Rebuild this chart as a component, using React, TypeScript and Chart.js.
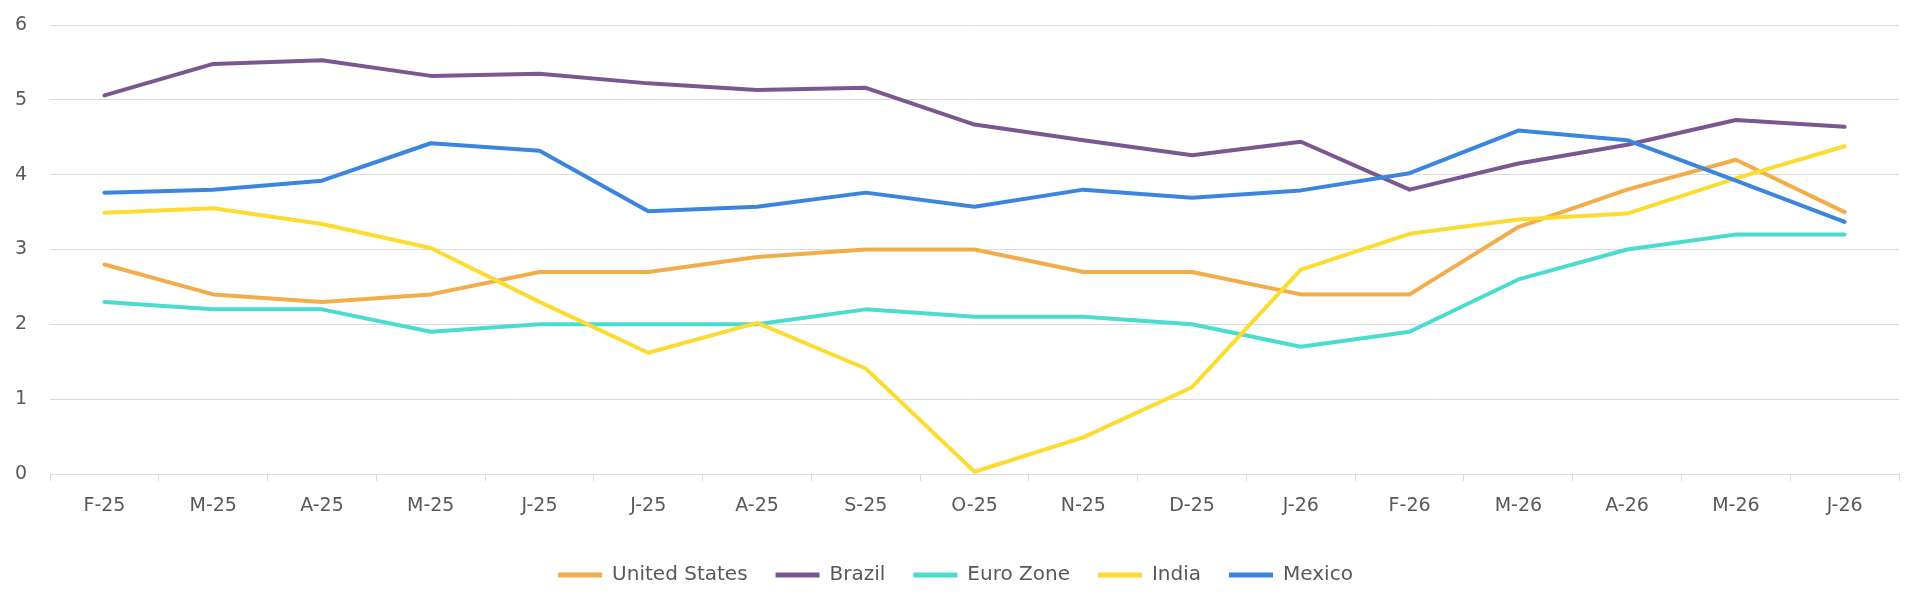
import React, { useEffect, useRef } from 'react';
import { Chart, registerables } from 'chart.js';

Chart.register(...registerables);

const months = ['F-25', 'M-25', 'A-25', 'M-25', 'J-25', 'J-25', 'A-25', 'S-25', 'O-25', 'N-25', 'D-25', 'J-26', 'F-26', 'M-26', 'A-26', 'M-26', 'J-26'];

const unitedStates = [2.8, 2.4, 2.3, 2.4, 2.7, 2.7, 2.9, 3.0, 3.0, 2.7, 2.7, 2.4, 2.4, 3.3, 3.8, 4.2, 3.5];
const brazil = [5.06, 5.48, 5.53, 5.32, 5.35, 5.22, 5.13, 5.16, 4.67, 4.46, 4.26, 4.44, 3.8, 4.15, 4.4, 4.73, 4.64];
const euroZone = [2.3, 2.2, 2.2, 1.9, 2.0, 2.0, 2.0, 2.2, 2.1, 2.1, 2.0, 1.7, 1.9, 2.6, 3.0, 3.2, 3.2];
const india = [3.49, 3.55, 3.34, 3.02, 2.3, 1.62, 2.02, 1.41, 0.03, 0.49, 1.16, 2.73, 3.21, 3.4, 3.48, 3.95, 4.38];
const mexico = [3.76, 3.8, 3.92, 4.42, 4.32, 3.51, 3.57, 3.76, 3.57, 3.8, 3.69, 3.79, 4.02, 4.59, 4.46, 3.92, 3.37];

const FONT = 'DejaVu Sans';
const TEXT = '#595959';
const GRID = '#dcdcdc';

const series = [
  { label: 'United States', data: unitedStates, color: '#f2ac49' },
  { label: 'Brazil', data: brazil, color: '#7b5791' },
  { label: 'Euro Zone', data: euroZone, color: '#4adccf' },
  { label: 'India', data: india, color: '#fddc32' },
  { label: 'Mexico', data: mexico, color: '#3a86df' },
];

const App: React.FC = () => {
  const canvasRef = useRef<HTMLCanvasElement>(null);

  useEffect(() => {
    if (!canvasRef.current) return;
    const chart = new Chart(canvasRef.current, {
      type: 'line',
      data: {
        labels: months,
        datasets: series.map((s, i) => ({
          label: s.label,
          data: s.data,
          borderColor: s.color,
          backgroundColor: s.color,
          borderWidth: 4,
          borderCapStyle: 'round' as const,
          borderJoinStyle: 'round' as const,
          pointRadius: 0,
          tension: 0,
          order: series.length - i, // later series on top
        })),
      },
      options: {
        animation: false,
        responsive: true,
        maintainAspectRatio: false,
        layout: { padding: { top: 17, right: 13, bottom: 7, left: 4 } },
        plugins: {
          tooltip: { enabled: false },
          legend: {
            position: 'bottom',
            labels: {
              usePointStyle: true,
              pointStyle: 'line',
              pointStyleWidth: 44,
              padding: 28,
              color: TEXT,
              font: { family: FONT, size: 20 },
              sort: (a, b) => (a.datasetIndex ?? 0) - (b.datasetIndex ?? 0),
              generateLabels: (c) =>
                Chart.defaults.plugins.legend.labels.generateLabels(c).map((l) => ({ ...l, lineWidth: 5 })),
            },
          },
        },
        scales: {
          x: {
            offset: true,
            grid: { offset: true, drawOnChartArea: false, drawTicks: true, tickLength: 7, color: GRID },
            border: { color: GRID },
            ticks: { color: TEXT, font: { family: FONT, size: 19 }, padding: 14, maxRotation: 0, autoSkip: false },
            afterFit: (scale) => {
              scale.height = 63;
            },
          },
          y: {
            min: 0,
            max: 6,
            // invisible tick marks give the gap between labels and plot
            grid: { color: GRID, drawTicks: true, tickLength: 20, tickColor: 'rgba(0,0,0,0)' },
            border: { display: false },
            ticks: { stepSize: 1, color: TEXT, font: { family: FONT, size: 19 }, padding: 3 },
          },
        },
      },
    });
    return () => chart.destroy();
  }, []);

  return (
    <div style={{ position: 'relative', width: '100%', height: '594px' }}>
      <canvas ref={canvasRef} />
    </div>
  );
};

export default App;
